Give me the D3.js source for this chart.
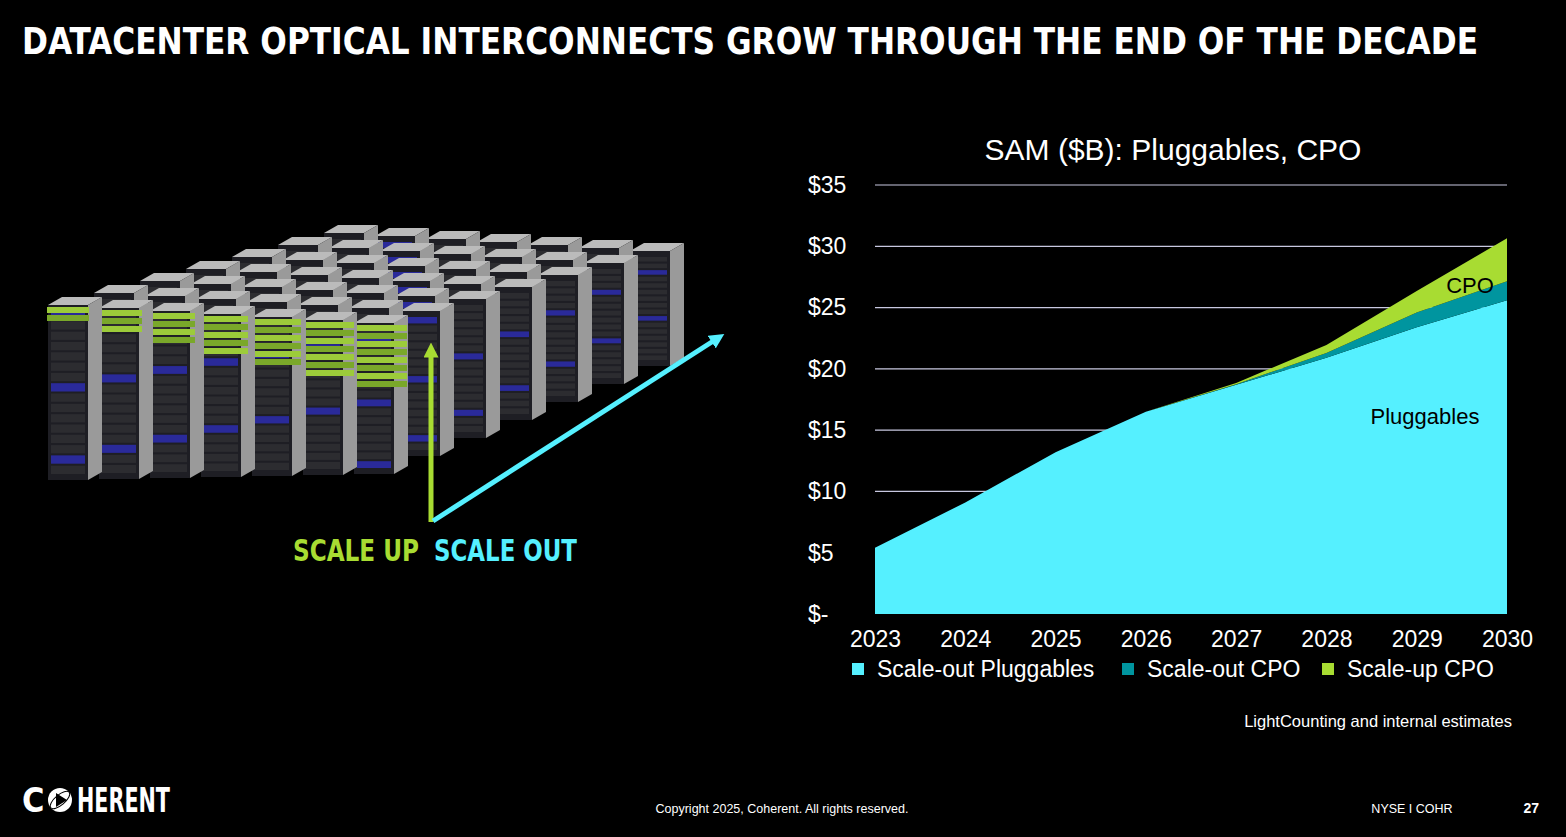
<!DOCTYPE html>
<html><head><meta charset="utf-8">
<script src="https://cdn.jsdelivr.net/npm/d3@7"></script>
<style>body{margin:0;background:#000;overflow:hidden}svg{display:block}</style>
</head><body><svg id="c" width="1566" height="837"></svg>
<script>
const years = [2023, 2024, 2025, 2026, 2027, 2028, 2029, 2030];
const pluggables = [5.4, 9.1, 13.2, 16.5, 18.7, 20.9, 23.4, 25.6];
const scaleOutCPO = [0, 0, 0, 0, 0.05, 0.4, 1.2, 1.55];
const scaleUpCPO = [0, 0, 0, 0, 0.1, 0.65, 1.75, 3.5];
const seriesNames = ["Scale-out Pluggables", "Scale-out CPO", "Scale-up CPO"];
const colors = ["#55f0ff", "#00959f", "#a8dc32"];
const yTicks = [0, 5, 10, 15, 20, 25, 30, 35];

const svg = d3.select("#c");
const font = "Arial, 'Liberation Sans', sans-serif";
const cf = "'Liberation Sans Narrow','DejaVu Sans Condensed',sans-serif";

// title
svg.append("text").attr("x", 22).attr("y", 54)
  .attr("font-family", cf).attr("font-weight", "bold").attr("font-size", 38).attr("fill", "#fff")
  .attr("textLength", 1456).attr("lengthAdjust", "spacingAndGlyphs")
  .text("DATACENTER OPTICAL INTERCONNECTS GROW THROUGH THE END OF THE DECADE");

// chart
const x = d3.scaleLinear().domain([2023, 2030]).range([875, 1507]);
const y = d3.scaleLinear().domain([0, 35]).range([614, 185]);

const table = years.map((yr, i) => ({ year: yr, p: pluggables[i], so: scaleOutCPO[i], su: scaleUpCPO[i] }));
const stacked = d3.stack().keys(["p", "so", "su"])(table);

svg.append("g").selectAll("line").data(yTicks.slice(1)).join("line")
  .attr("x1", 875).attr("x2", 1507).attr("y1", d => y(d)).attr("y2", d => y(d))
  .attr("stroke", "#c8c8e0").attr("stroke-width", 1.2);

const area = d3.area().x(d => x(d.data.year)).y0(d => y(d[0])).y1(d => y(d[1]));
svg.append("g").selectAll("path").data(stacked).join("path")
  .attr("d", area).attr("fill", (d, i) => colors[i]);

const yAxis = svg.append("g").attr("transform", "translate(848,0)")
  .call(d3.axisLeft(y).tickValues(yTicks).tickSize(0).tickFormat(d => d === 0 ? "$-" : "$" + d));
yAxis.select(".domain").remove();
yAxis.selectAll("text").attr("fill", "#fff").attr("font-size", 23).attr("font-family", font).attr("text-anchor", "start").attr("x", -40);

const xAxis = svg.append("g").attr("transform", "translate(0,623)")
  .call(d3.axisBottom(x).tickValues(years).tickSize(0).tickFormat(d3.format("d")));
xAxis.select(".domain").remove();
xAxis.selectAll("text").attr("fill", "#fff").attr("font-size", 23).attr("font-family", font).attr("dy", "0.9em");

svg.append("text").attr("x", 1173).attr("y", 160).attr("text-anchor", "middle")
  .attr("fill", "#fff").attr("font-size", 30).attr("font-family", font).text("SAM ($B): Pluggables, CPO");
svg.append("text").attr("x", 1425).attr("y", 424).attr("text-anchor", "middle")
  .attr("fill", "#000").attr("font-size", 22).attr("font-family", font).text("Pluggables");
svg.append("text").attr("x", 1470).attr("y", 293).attr("text-anchor", "middle")
  .attr("fill", "#000").attr("font-size", 22).attr("font-family", font).text("CPO");

// legend
const legX = [852, 1122, 1322];
const leg = svg.append("g").selectAll("g").data(seriesNames).join("g")
  .attr("transform", (d, i) => `translate(${legX[i]},669)`);
leg.append("rect").attr("x", 0).attr("y", -6).attr("width", 12).attr("height", 12).attr("fill", (d, i) => colors[i]);
leg.append("text").attr("x", 25).attr("y", 8).attr("fill", "#fff").attr("font-size", 23).attr("font-family", font).text(d => d);

svg.append("text").attr("x", 1512).attr("y", 727).attr("text-anchor", "end")
  .attr("fill", "#fff").attr("font-size", 16.5).attr("font-family", font).text("LightCounting and internal estimates");

// footer
svg.append("text").attr("x", 22).attr("y", 812).attr("fill", "#fff")
  .attr("font-family", cf).attr("font-weight", "bold").attr("font-size", 34).text("C");
svg.append("text").attr("x", 77).attr("y", 812).attr("fill", "#fff")
  .attr("font-family", cf).attr("font-weight", "bold").attr("font-size", 34)
  .attr("textLength", 93).attr("lengthAdjust", "spacingAndGlyphs").text("HERENT");
svg.append("circle").attr("cx", 60).attr("cy", 800).attr("r", 12).attr("fill", "#fff");
svg.append("path").attr("d", "M56,793 L67,800 L56,807 Z").attr("fill", "#000");
svg.append("ellipse").attr("cx", 60).attr("cy", 800).attr("rx", 12).attr("ry", 5)
  .attr("transform", "rotate(-40,60,800)").attr("fill", "none").attr("stroke", "#000").attr("stroke-width", 1);
svg.append("text").attr("x", 782).attr("y", 813).attr("text-anchor", "middle").attr("fill", "#fff")
  .attr("font-size", 12.5).attr("font-family", font).text("Copyright 2025, Coherent. All rights reserved.");
svg.append("text").attr("x", 1412).attr("y", 813).attr("text-anchor", "middle").attr("fill", "#fff")
  .attr("font-size", 12.5).attr("font-family", font).text("NYSE I COHR");
svg.append("text").attr("x", 1539).attr("y", 813).attr("text-anchor", "end").attr("fill", "#fff")
  .attr("font-size", 14).attr("font-weight", "bold").attr("font-family", font).text("27");

// left illustration: rows of racks
const ill = svg.append("g");
d3.range(7).reverse().forEach(r => {
  const ox = 48 + r * 40, oy = 305 - r * 12;
  for (let k = 6; k >= 0; k--) {
    const rx = ox + k * 51 + r * 6, ry = oy + k * 3;
    const h = 175 - r * 6 - k * 4;
    ill.append("path").attr("d", `M${rx},${ry} l40,0 l14,-8 l-40,0 Z`).attr("fill", "#bbb");
    ill.append("path").attr("d", `M${rx + 40},${ry} l14,-8 l0,${h} l-14,8 Z`).attr("fill", "#9a9a9a");
    ill.append("rect").attr("x", rx).attr("y", ry).attr("width", 40).attr("height", h).attr("fill", "#1e1e24");
    for (let s = 0; s < 16; s++) {
      ill.append("rect").attr("x", rx + 3).attr("y", ry + 6 + s * (h - 10) / 16).attr("width", 34).attr("height", (h - 10) / 16 - 2)
        .attr("fill", (s + k + r) % 7 === 0 ? "#2a2a9a" : "#2c2c30");
    }
    if (r === 0) {
      for (let s = 0; s < 2 + k; s++) {
        ill.append("rect").attr("x", rx - 1).attr("y", ry + 2 + s * 8).attr("width", 42 + k * 2).attr("height", 6)
          .attr("fill", s % 2 ? "#7aa82a" : "#9ccb3a");
      }
    }
  }
});

// arrows
svg.append("defs").html(`
<marker id="ag" viewBox="0 0 10 10" refX="5" refY="5" markerWidth="3" markerHeight="3" orient="auto"><path d="M0,0 L10,5 L0,10 Z" fill="#a8dc32"/></marker>
<marker id="ac" viewBox="0 0 10 10" refX="5" refY="5" markerWidth="3" markerHeight="3" orient="auto"><path d="M0,0 L10,5 L0,10 Z" fill="#55f0ff"/></marker>`);
svg.append("line").attr("x1", 431).attr("y1", 522).attr("x2", 431).attr("y2", 350)
  .attr("stroke", "#a8dc32").attr("stroke-width", 5).attr("marker-end", "url(#ag)");
svg.append("line").attr("x1", 433).attr("y1", 521).attr("x2", 718).attr("y2", 338)
  .attr("stroke", "#55f0ff").attr("stroke-width", 5).attr("marker-end", "url(#ac)");
svg.append("text").attr("x", 293).attr("y", 561).attr("fill", "#a8dc32").attr("font-family", cf).attr("font-weight", "bold")
  .attr("font-size", 30).attr("textLength", 126).attr("lengthAdjust", "spacingAndGlyphs").text("SCALE UP");
svg.append("text").attr("x", 434).attr("y", 561).attr("fill", "#55f0ff").attr("font-family", cf).attr("font-weight", "bold")
  .attr("font-size", 30).attr("textLength", 143).attr("lengthAdjust", "spacingAndGlyphs").text("SCALE OUT");
</script></body></html>
